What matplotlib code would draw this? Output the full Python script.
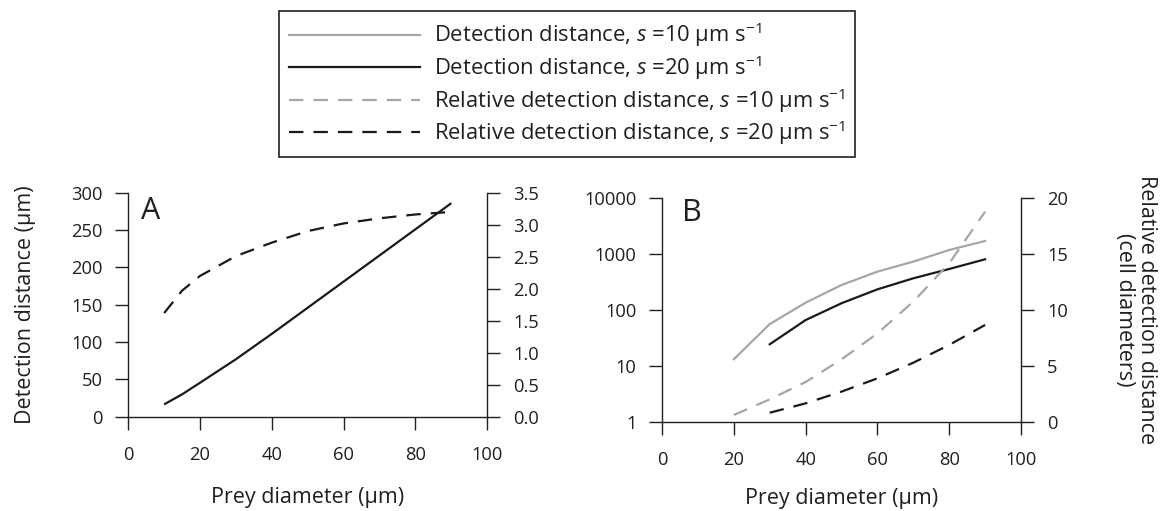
import matplotlib
matplotlib.use("Agg")
import matplotlib.pyplot as plt
from matplotlib.ticker import FixedLocator, FixedFormatter, NullLocator, FormatStrFormatter

plt.rcParams['font.family'] = ['Open Sans', 'DejaVu Sans']
plt.rcParams['mathtext.fontset'] = 'custom'
plt.rcParams['mathtext.rm'] = 'Open Sans'
plt.rcParams['mathtext.it'] = 'Open Sans:italic'
plt.rcParams['mathtext.default'] = 'regular'

TXT = '#231f20'
GRAY = '#a6a6a6'
BLACK = '#1a1a1a'

# ---- Panel A data ----
a_x_dist = [10, 15, 20, 30, 40, 50, 60, 70, 80, 90]
a_dist_s20 = [16.5, 30, 45.5, 77, 111, 146, 181, 216, 251, 286]
a_x_rel = [10, 15, 20, 30, 40, 50, 60, 70, 80, 90]
a_rel_s20 = [1.62, 1.97, 2.20, 2.51, 2.72, 2.90, 3.02, 3.10, 3.16, 3.20]

# ---- Panel B data ----
b_x_s10 = [20, 30, 40, 50, 60, 70, 80, 90]
b_dist_s10 = [13.1, 56, 135, 280, 486, 734, 1188, 1721]
b_rel_s10 = [0.6, 2.0, 3.55, 5.58, 7.9, 10.75, 14.18, 18.8]
b_x_s20 = [30, 40, 50, 60, 70, 80, 90]
b_dist_s20 = [24.3, 66, 132, 234, 369, 542, 808]
b_rel_s20 = [0.8, 1.64, 2.69, 3.88, 5.28, 6.87, 8.66]

x_ticks = [0, 20, 40, 60, 80, 100]
a_left_ticks = [0, 50, 100, 150, 200, 250, 300]
a_right_ticks = [0.0, 0.5, 1.0, 1.5, 2.0, 2.5, 3.0, 3.5]
b_left_ticks = [1, 10, 100, 1000, 10000]
b_left_labels = ['1', '10', '100', '1000', '10000']
b_right_ticks = [0, 5, 10, 15, 20]

legend_labels = [
    r'Detection distance, $\mathit{s}$ =10 µm s$^{\mathregular{-1}}$',
    r'Detection distance, $\mathit{s}$ =20 µm s$^{\mathregular{-1}}$',
    r'Relative detection distance, $\mathit{s}$ =10 µm s$^{\mathregular{-1}}$',
    r'Relative detection distance, $\mathit{s}$ =20 µm s$^{\mathregular{-1}}$',
]

LW = 1.6
DASH = (0, (6.5, 4.5))
TICKLEN = 9.4
FS_TICK = 13.2
FS_LAB = 15.5
FS_LEG = 15.8

fig = plt.figure(figsize=(11.67, 5.11), dpi=100)

def style_axes(ax, ax2, xlabelpad):
    for a in (ax, ax2):
        a.spines['top'].set_visible(False)
        for s in a.spines.values():
            s.set_color(TXT)
            s.set_linewidth(1.0)
        a.set_facecolor('none')
    ax.spines['right'].set_visible(False)
    ax2.spines['left'].set_visible(False)
    ax2.spines['bottom'].set_visible(False)
    ax.tick_params(axis='x', direction='out', length=TICKLEN, width=1.0, color=TXT,
                   labelsize=FS_TICK, labelcolor=TXT, pad=12)
    ax.tick_params(axis='y', direction='out', length=TICKLEN, width=1.0, color=TXT,
                   labelsize=FS_TICK, labelcolor=TXT, pad=9)
    ax2.tick_params(axis='y', direction='out', length=TICKLEN, width=1.0, color=TXT,
                    labelsize=FS_TICK, labelcolor=TXT, pad=9.5)
    ax.set_xlim(0, 100)
    ax.xaxis.set_major_locator(FixedLocator(x_ticks))
    ax.set_xlabel('Prey diameter (µm)', fontsize=FS_LAB, color=TXT, labelpad=xlabelpad)

# ---- Panel A ----
axA = fig.add_axes([0.1099, 0.1845, 0.3076, 0.4384])
axA2 = axA.twinx()
axA.plot(a_x_dist, a_dist_s20, color=BLACK, lw=LW, solid_capstyle='butt')
axA2.plot(a_x_rel, a_rel_s20, color=BLACK, lw=LW, linestyle=DASH)
axA.set_ylim(0, 300)
axA2.set_ylim(0, 3.5)
axA.yaxis.set_major_locator(FixedLocator(a_left_ticks))
axA2.yaxis.set_major_locator(FixedLocator(a_right_ticks))
axA2.yaxis.set_major_formatter(FormatStrFormatter('%.1f'))
style_axes(axA, axA2, 16.5)
axA.set_ylabel('Detection distance (µm)', fontsize=FS_LAB, color=TXT, labelpad=25)
axA.text(0.035, 0.985, 'A', transform=axA.transAxes, fontsize=22, color=TXT,
         ha='left', va='top')

# ---- Panel B ----
axB = fig.add_axes([0.5673, 0.1748, 0.3076, 0.4372])
axB2 = axB.twinx()
l1, = axB.plot(b_x_s10, b_dist_s10, color=GRAY, lw=LW)
l2, = axB.plot(b_x_s20, b_dist_s20, color=BLACK, lw=LW)
l3, = axB2.plot(b_x_s10, b_rel_s10, color=GRAY, lw=LW, linestyle=DASH)
l4, = axB2.plot(b_x_s20, b_rel_s20, color=BLACK, lw=LW, linestyle=DASH)
axB.set_yscale('log')
axB.set_ylim(1, 10000)
axB.yaxis.set_major_locator(FixedLocator(b_left_ticks))
axB.yaxis.set_major_formatter(FixedFormatter(b_left_labels))
axB.yaxis.set_minor_locator(NullLocator())
axB2.set_ylim(0, 20)
axB2.yaxis.set_major_locator(FixedLocator(b_right_ticks))
style_axes(axB, axB2, 13.5)
axB2.set_ylabel('Relative detection distance\n(cell diameters)', fontsize=FS_LAB,
                color=TXT, rotation=-90, labelpad=64, linespacing=1.05)
axB.text(0.055, 1.0, 'B', transform=axB.transAxes, fontsize=22, color=TXT,
         ha='left', va='top')

leg = fig.legend([l1, l2, l3, l4], legend_labels, loc='upper left',
                 bbox_to_anchor=(0.2393, 0.9785), borderaxespad=0,
                 fontsize=FS_LEG, handlelength=5.95, handletextpad=0.64,
                 borderpad=0.45, labelspacing=0.18, fancybox=False,
                 framealpha=1, edgecolor=TXT, frameon=True)
leg.get_frame().set_linewidth(1.2)
for t in leg.get_texts():
    t.set_color(TXT)

fig.savefig('out.png', dpi=100)
